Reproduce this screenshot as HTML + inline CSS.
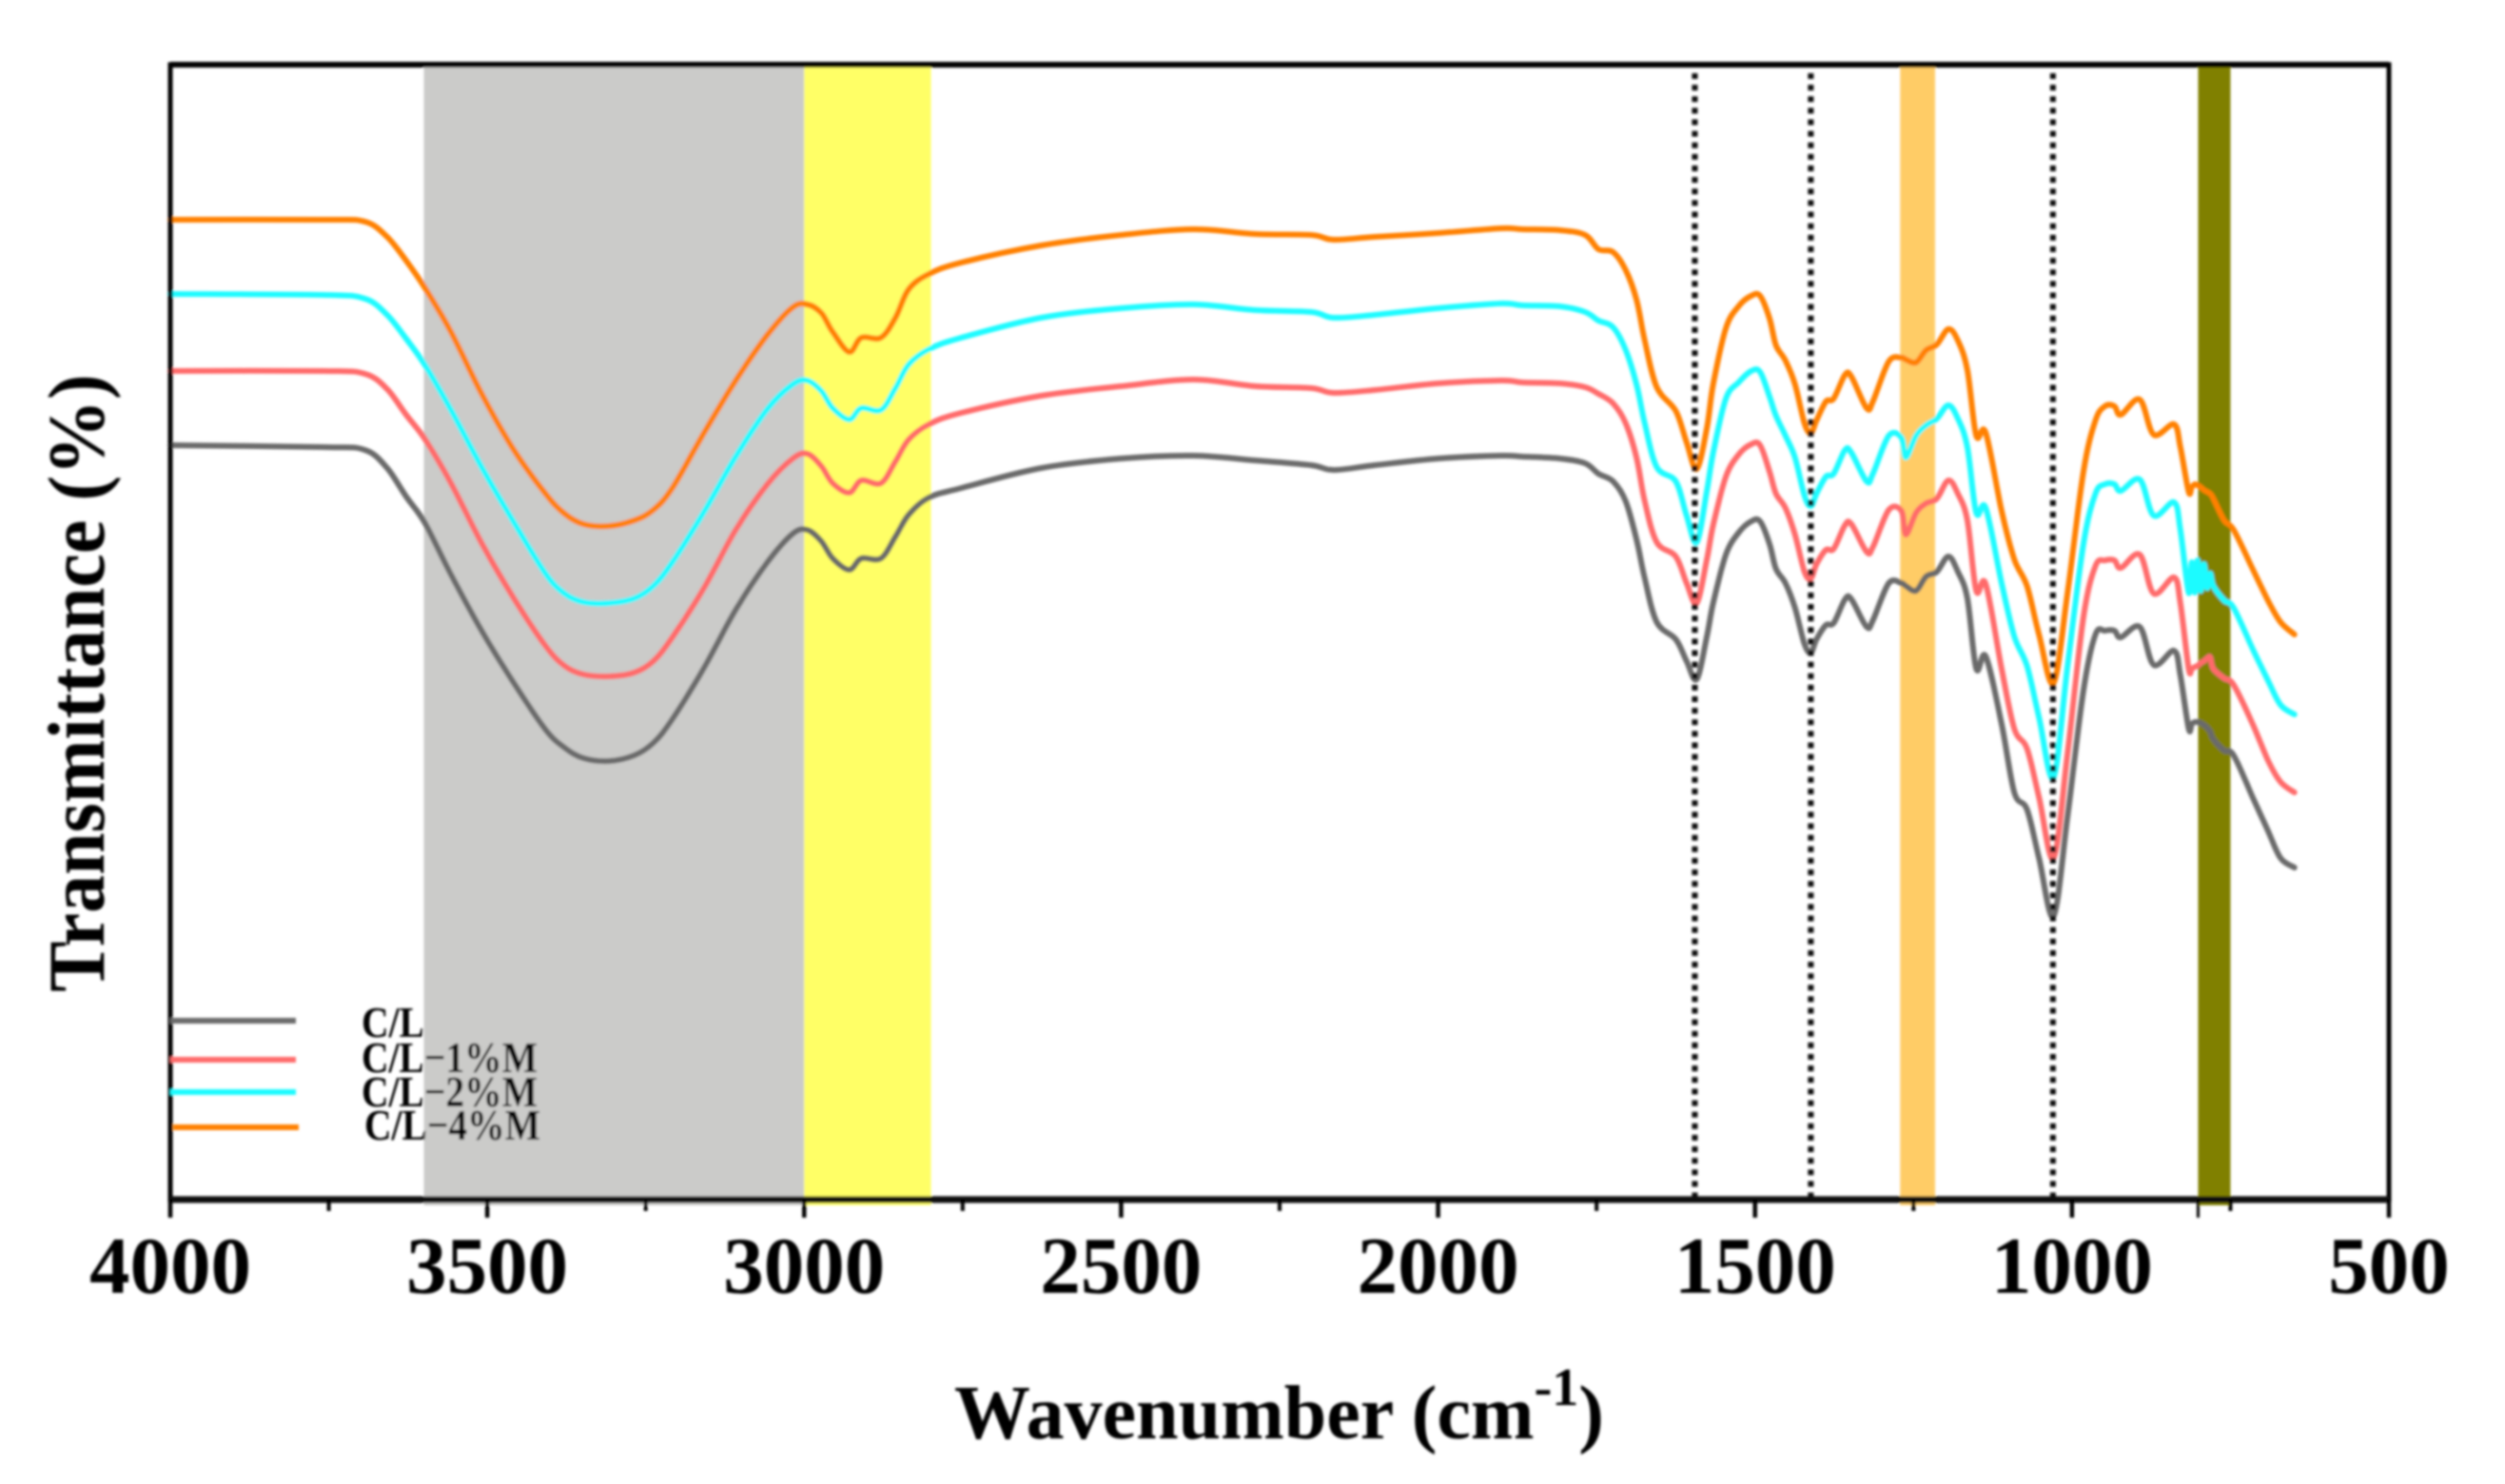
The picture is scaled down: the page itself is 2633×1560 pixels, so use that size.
<!DOCTYPE html>
<html lang="en">
<head>
<meta charset="utf-8">
<title>FTIR transmittance spectra</title>
<style>
html,body{margin:0;padding:0;background:#fff;width:2633px;height:1560px;overflow:hidden}
svg{display:block}
text{font-family:"Liberation Serif",serif;font-weight:bold;fill:#000}
</style>
</head>
<body>
<svg id="chart" xmlns="http://www.w3.org/2000/svg" width="2633" height="1560" viewBox="0 0 2633 1560">
<defs><filter id="soft" x="-2%" y="-2%" width="104%" height="104%"><feGaussianBlur stdDeviation="1.4"/></filter></defs>
<g id="root" filter="url(#soft)"></g>
</svg>
<script>
const wavenumbers = [4000,3758,3693,3658,3628,3599,3558,3508,3458,3408,3378,3348,3308,3268,3238,3208,3158,3108,3058,3018,2995,
2973,2955,2929,2910,2879,2856,2835,2803,2752,2626,2500,2386,2288,2200,2165,2100,2000,1900,
1867,1808,1768,1747,1724,1704,1687,1674,1655,1625,
1608,1592,1576,1566,1546,1526,1506,1492,1477,1467,
1452,1437,1422,1412,1403,1388,1376,1358,1348,1324,
1314,1289,1269,1262,1246,1230,1213,1195,1180,1165,
1151,1136,1111,1091,1071,1052,1029,1007,982,963,
948,933,923,893,871,839,829,816,811,806,
802,797,792,787,782,777,760,745,715,691,
671,649];
const seriesCL = [793,791,788,769,739,712,658,597,543,494,475,464,461,467,480,505,559,620,670,700,704,
692,674,662,674,674,697,720,738,748,769,779,782,777,772,767,772,779,782,
781,779,774,763,755,734,694,653,607,589,
566,547,592,627,678,701,713,713,689,663,
648,622,584,575,589,604,606,631,631,602,
609,648,648,645,640,655,660,676,660,632,
558,571,500,428,410,359,298,403,535,594,
598,598,591,602,562,577,551,495,500,502,
502,501,499,496,492,484,472,467,423,388,
359,349];
const seriesCL1M = [871,871,868,852,825,800,754,689,632,582,561,552,550,554,566,591,643,704,752,779,784,
771,753,743,756,753,776,799,815,827,845,855,862,855,853,848,851,858,861,
859,858,854,847,837,816,780,734,691,676,
648,627,673,709,760,783,794,793,765,742,
727,699,660,653,668,683,684,709,710,681,
686,725,724,699,722,732,737,756,742,714,
640,647,558,495,474,423,359,469,612,666,
672,672,664,678,637,654,627,558,558,560,
561,564,566,569,570,558,548,541,500,462,
439,428];
const seriesCL2M = [952,951,947,930,905,878,831,769,712,658,637,628,627,632,645,670,723,781,831,857,861,
850,832,820,832,830,853,878,894,906,927,937,941,935,933,927,930,937,942,
940,939,933,924,917,893,857,816,770,755,
719,691,745,785,842,859,871,870,844,824,
803,780,740,729,742,760,763,788,785,755,
763,803,801,780,803,814,821,835,821,791,
722,727,648,592,561,507,444,561,689,742,
752,752,745,757,719,733,704,638,670,638,
672,640,668,643,658,645,630,622,579,546,
520,510];
const seriesCL4M = [1030,1030,1028,1012,987,959,913,846,788,742,721,710,708,714,725,748,806,861,909,938,941,
932,912,891,906,906,927,957,973,985,1003,1014,1020,1015,1014,1009,1012,1016,1021,
1020,1019,1014,999,996,977,946,903,854,829,
796,768,811,857,916,939,950,950,926,898,
882,857,816,806,819,839,842,867,865,832,
839,881,885,883,880,893,899,915,903,872,
803,806,724,673,645,594,543,638,765,819,
834,834,825,841,804,815,791,744,749,752,
751,749,746,744,742,737,714,704,663,630,
607,594];
const seriesNames = ["C/L","C/L\u22121%M","C/L\u22122%M","C/L\u22124%M"];
const majorTicks = [4000,3500,3000,2500,2000,1500,1000,500];
const minorTicks = [3750,3250,2750,2250,1750,1250,750];
const bandStarts = [3600,3000,1271,801];
const bandEnds = [3000,2800,1216,750];
const markerWavenumbers = [1595,1412,1030];

const NS = "http://www.w3.org/2000/svg";
const root = document.getElementById("root");
const plot = {left:179,right:2511,top:68,bottom:1261};
const xDomain = [4000,500];
const yDomain = [0,1193];
function xScale(w){return plot.left+(w-xDomain[0])/(xDomain[1]-xDomain[0])*(plot.right-plot.left);}
function yScale(v){return plot.bottom-(v-yDomain[0])/(yDomain[1]-yDomain[0])*(plot.bottom-plot.top);}
function make(tag,attrs,parent){
  const el=document.createElementNS(NS,tag);
  for(const k in attrs){el.setAttribute(k,attrs[k]);}
  (parent||root).appendChild(el);
  return el;
}
function curvePath(xs,ys){
  let d="M"+xs[0].toFixed(1)+" "+ys[0].toFixed(1);
  const t=1/6;
  for(let i=0;i<xs.length-1;i++){
    const a=Math.max(i-1,0),b=Math.min(i+2,xs.length-1);
    const c1x=xs[i]+(xs[i+1]-xs[a])*t,c1y=ys[i]+(ys[i+1]-ys[a])*t;
    const c2x=xs[i+1]-(xs[b]-xs[i])*t,c2y=ys[i+1]-(ys[b]-ys[i])*t;
    d+="C"+c1x.toFixed(1)+" "+c1y.toFixed(1)+" "+c2x.toFixed(1)+" "+c2y.toFixed(1)+" "+xs[i+1].toFixed(1)+" "+ys[i+1].toFixed(1);
  }
  return d;
}

/* highlight bands */
const bandColors=["#cbcbc9","#ffff66","#ffcc66","#808000"];
const bandLabels=["oh-band","ch-band","amide-band","mxene-band"];
bandStarts.forEach(function(s,i){
  const x0=xScale(s),x1=xScale(bandEnds[i]);
  const r=make("rect",{x:x0,y:plot.top,width:x1-x0,height:plot.bottom+6-plot.top,fill:bandColors[i]});
  
  
});

/* series */
const seriesData=[seriesCL,seriesCL1M,seriesCL2M,seriesCL4M];
const seriesColors=["#6a6a6a","#ff6b6b","#1ffbff","#ff8000"];
const seriesKeys=["series-c-l","series-c-l-1m","series-c-l-2m","series-c-l-4m"];
const xs=wavenumbers.map(xScale);
seriesData.forEach(function(vals,i){
  const p=make("path",{d:curvePath(xs,vals.map(yScale)),fill:"none",stroke:seriesColors[i],"stroke-width":6,"stroke-linejoin":"round","stroke-linecap":"round"});
  
  
});

/* dotted markers */
markerWavenumbers.forEach(function(w){
  const x=xScale(w);
  const l=make("line",{x1:x,x2:x,y1:plot.top+9,y2:plot.bottom,stroke:"#111","stroke-width":6,"stroke-dasharray":"6 6.13"});
  
  
});

/* frame */
const frame=make("rect",{x:plot.left,y:plot.top,width:plot.right-plot.left,height:plot.bottom-plot.top,fill:"none",stroke:"#000","stroke-width":5});


const topLine=make("line",{x1:plot.left,x2:plot.right,y1:plot.top,y2:plot.top,stroke:"#000","stroke-width":6});


const bottomLine=make("line",{x1:plot.left,x2:plot.right,y1:plot.bottom,y2:plot.bottom,stroke:"#111","stroke-width":7});



/* ticks and labels */
majorTicks.forEach(function(t){
  const x=xScale(t);
  const tick=make("line",{x1:x,x2:x,y1:plot.bottom,y2:plot.bottom+19,stroke:"#000","stroke-width":4.5});
  
  
  const label=make("text",{x:x,y:1359,"text-anchor":"middle","font-size":85});
  label.textContent=String(t);
  
  
});
minorTicks.forEach(function(t){
  const x=xScale(t);
  const tick=make("line",{x1:x,x2:x,y1:plot.bottom,y2:plot.bottom+12,stroke:"#000","stroke-width":4});
  
  
});
const edgeTick=make("line",{x1:xScale(801),x2:xScale(801),y1:plot.bottom,y2:plot.bottom+19,stroke:"#000","stroke-width":3});



/* legend */
const legendLineY=[1073,1114,1148,1185];
const legendTextY=[1090,1127,1163,1198];
const legendX0=[179,179,179,182];
const legendTextX=[380,380,380,383];
const legendTextWidth=[66,185,185,185];
seriesNames.forEach(function(n,i){
  const ln=make("line",{x1:legendX0[i],x2:legendX0[i]+132,y1:legendLineY[i],y2:legendLineY[i],stroke:seriesColors[i],"stroke-width":6});
  
  
  const tx=make("text",{x:legendTextX[i],y:legendTextY[i],"font-size":46,textLength:legendTextWidth[i],lengthAdjust:"spacingAndGlyphs"});
  tx.textContent=n;
  
  
});

/* axis titles */
const xTitle=make("text",{x:1003,y:1512,"font-size":80});


xTitle.appendChild(document.createTextNode("Wavenumber (cm"));
const sup=make("tspan",{dy:-35,"font-size":56},xTitle);
sup.textContent="-1";
const closeParen=make("tspan",{dy:35},xTitle);
closeParen.textContent=")";
const yTitle=make("text",{x:0,y:0,"font-size":80,"text-anchor":"middle",transform:"translate(109 718) rotate(-90) scale(1 1.06)"});
yTitle.textContent="Transmittance (%)";


</script>
</body>
</html>
